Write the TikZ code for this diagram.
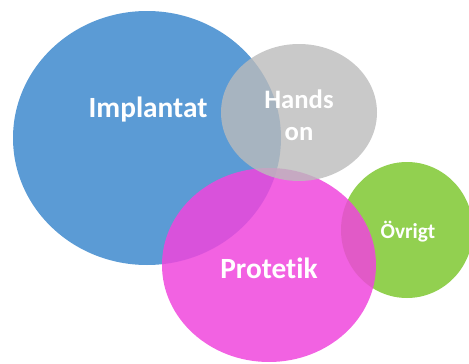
\documentclass[tikz,border=0pt]{standalone}
\usepackage{fontspec}
\setmainfont[Ligatures=NoCommon]{Carlito}
\usepackage{tikz}

\definecolor{implblue}{RGB}{91,155,213}
\definecolor{handsgray}{RGB}{187,187,187}
\definecolor{protmagenta}{RGB}{240,70,221}
\definecolor{ovrgreen}{RGB}{146,208,80}

\begin{document}
\begin{tikzpicture}[x=0.75pt,y=0.75pt,yscale=-1,xscale=1,
  bubbletext/.style={anchor=center,inner sep=0.75pt,text=white,font=\bfseries\fontsize{22}{26}\selectfont,align=center}]
\useasboundingbox (0,0) rectangle (469,364);

%Ellipse [Implantat]
\fill [color=implblue] (147,138) ellipse [x radius=134, y radius=127];
%Ellipse [Ovrigt]
\fill [color=ovrgreen] (407,230) ellipse [x radius=66, y radius=68];
%Ellipse [Protetik]
\fill [color=protmagenta, fill opacity=0.85] (269,265) ellipse [x radius=107, y radius=97];
%Ellipse [Hands on]
\fill [color=handsgray, fill opacity=0.8] (299,112.5) ellipse [x radius=78, y radius=68.5];

% Text Node
\node (implantat) [bubbletext] at (148,110) {Implantat};
% Text Node
\node (handson) [bubbletext,font=\bfseries\fontsize{20}{24}\selectfont] at (299,115) {Hands\\on};
% Text Node
\node (protetik) [bubbletext] at (269,268) {Protetik};
% Text Node
\node (ovrigt) [bubbletext,font=\bfseries\fontsize{16}{19}\selectfont] at (408,232) {Övrigt};

\end{tikzpicture}
\end{document}
